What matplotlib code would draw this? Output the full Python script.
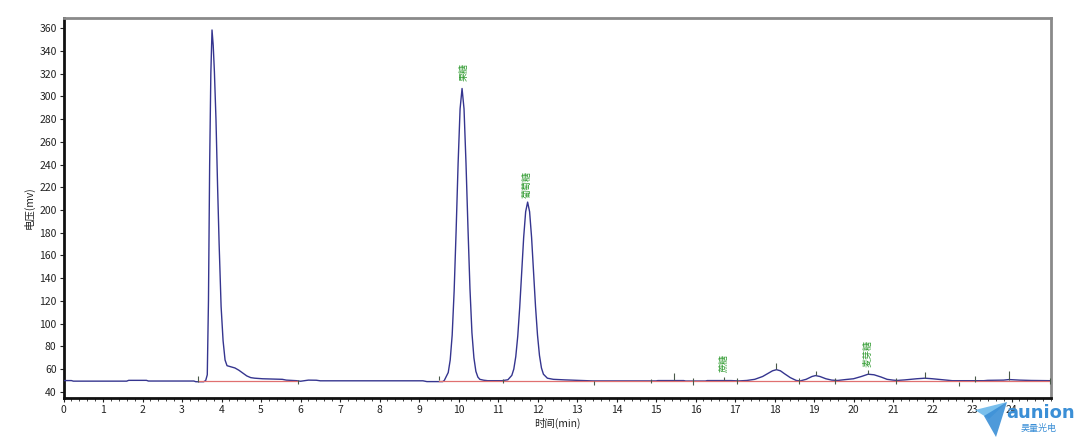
import matplotlib
matplotlib.use("Agg")
import matplotlib.pyplot as plt
from matplotlib.ticker import MultipleLocator
from matplotlib.patches import Polygon

plt.rcParams['font.family'] = ['Noto Sans CJK SC', 'DejaVu Sans']

# ---- data ----
time_min = [0.0, 0.2, 0.25, 1.6, 1.65, 2.1, 2.15, 3.3, 3.35, 3.55, 3.60, 3.64,
            3.67, 3.70, 3.73, 3.76, 3.79, 3.82, 3.86, 3.90, 3.94, 3.99, 4.04,
            4.09, 4.14, 4.24, 4.34, 4.44, 4.54, 4.64, 4.74, 4.84, 5.04, 5.54,
            5.64, 5.90, 6.00, 6.20, 6.40, 6.50, 9.10, 9.20, 9.60, 9.64, 9.74,
            9.79, 9.84, 9.89, 9.94, 9.99, 10.04, 10.09, 10.14, 10.19, 10.24,
            10.29, 10.34, 10.39, 10.44, 10.49, 10.54, 10.64, 10.74, 11.10,
            11.25, 11.35, 11.40, 11.45, 11.50, 11.55, 11.60, 11.65, 11.70,
            11.75, 11.80, 11.85, 11.90, 11.95, 12.00, 12.05, 12.10, 12.15,
            12.25, 12.40, 12.70, 13.10, 13.40, 15.00, 15.05, 15.70, 15.75,
            16.25, 16.30, 16.90, 17.10, 17.30, 17.50, 17.70, 17.85, 17.95,
            18.05, 18.15, 18.25, 18.40, 18.55, 18.65, 18.80, 18.95, 19.04,
            19.15, 19.30, 19.45, 19.60, 19.80, 20.00, 20.20, 20.37, 20.52,
            20.70, 20.85, 21.00, 21.10, 21.30, 21.60, 21.81, 22.00, 22.30,
            22.50, 23.30, 23.40, 23.80, 23.94, 24.20, 24.50, 25.00]
voltage_mv = [49.9, 49.9, 49.4, 49.4, 50.1, 50.1, 49.5, 49.5, 48.9, 48.9, 50.0,
              55.0, 120.0, 240.0, 320.0, 358.5, 345.0, 322.0, 280.0, 222.0,
              170.0, 115.0, 85.0, 68.0, 63.0, 62.0, 61.0, 59.0, 56.5, 54.0,
              52.5, 52.0, 51.5, 51.0, 50.3, 49.8, 49.3, 50.3, 50.2, 49.7,
              49.7, 49.0, 49.0, 50.0, 57.0, 68.0, 90.0, 129.0, 182.0, 241.0,
              289.0, 307.0, 289.0, 241.0, 184.0, 131.0, 92.0, 70.0, 58.0,
              53.0, 51.0, 50.2, 49.8, 49.8, 50.6, 54.5, 60.0, 71.0, 89.0,
              114.5, 145.0, 176.0, 198.5, 207.0, 198.5, 176.0, 145.0, 115.0,
              90.0, 72.0, 61.0, 55.5, 52.0, 51.0, 50.5, 50.0, 49.6, 49.6, 49.9,
              49.9, 49.5, 49.5, 49.9, 49.9, 49.6, 50.0, 51.0, 53.5, 56.5, 58.5,
              59.5, 58.5, 56.0, 52.5, 50.0, 49.6, 51.0, 53.5, 54.3, 53.5, 51.5,
              50.3, 50.0, 50.8, 51.5, 53.5, 55.5, 55.0, 53.0, 51.0, 50.3, 50.0,
              50.5, 51.5, 52.0, 51.5, 50.5, 49.8, 49.8, 50.1, 50.3, 50.8, 50.3,
              50.0, 49.8]

# integration baseline segments (start, end, level in mV)
baseline_start = [3.40, 9.50]
baseline_end = [5.94, 25.0]
baseline_level = [49.2, 49.2]

# peak start/end/apex markers: time, lower mV, upper mV
marker_time = [3.41, 5.94, 9.51, 11.12, 13.43, 14.87, 15.46, 15.94, 16.72,
               17.06, 18.05, 18.61, 19.04, 19.54, 20.37, 21.08, 21.81, 22.68,
               23.08, 23.94, 24.97]
marker_low = [49.0, 46.5, 50.0, 47.5, 46.0, 47.5, 50.0, 46.0, 50.0, 46.6,
              60.0, 47.0, 54.5, 47.0, 56.0, 46.5, 52.0, 45.5, 49.0, 50.5, 46.5]
marker_high = [53.5, 50.5, 54.0, 51.5, 49.5, 51.5, 57.0, 52.0, 53.0, 52.0,
               65.0, 52.0, 58.5, 52.0, 59.0, 52.0, 57.8, 49.0, 53.5, 58.0, 52.0]

# peak names
peak_names = ['果糖', '葡萄糖', '蔗糖', '麦芽糖']
peak_time = [10.14, 11.75, 16.72, 20.37]
peak_label_mv = [314.0, 211.0, 57.5, 62.0]

x_ticks = list(range(0, 25))
y_ticks = list(range(40, 361, 20))

# ---- figure ----
W, H = 1084, 442
fig = plt.figure(figsize=(W / 100, H / 100), dpi=100)
ax = fig.add_axes([63.5 / W, (H - 398.3) / H, (1051 - 63.5) / W, (398.3 - 17.7) / H])

ax.plot(time_min, voltage_mv, color='#35358f', lw=1.0, zorder=3)
for s, e, lv in zip(baseline_start, baseline_end, baseline_level):
    ax.plot([s, e], [lv, lv], color='#e07070', lw=0.9, zorder=4)
ax.vlines(marker_time, marker_low, marker_high, color='#4a5a4a', lw=0.8, zorder=5)

for name, t, v in zip(peak_names, peak_time, peak_label_mv):
    ax.text(t, v, name, rotation=90, ha='center', va='bottom', fontsize=6.5,
            color='#2e9a2e', zorder=6)

ax.set_xlim(0, 25)
ax.set_ylim(34.3, 369.3)
ax.set_xticks(x_ticks)
ax.set_yticks(y_ticks)
ax.xaxis.set_minor_locator(MultipleLocator(0.2))
ax.tick_params(axis='both', which='major', labelsize=7.5, colors='#222222',
               direction='out', length=3, width=0.8, pad=2)
ax.tick_params(axis='x', which='minor', direction='out', length=2, width=0.6,
               colors='#222222')

for side in ['left', 'bottom']:
    ax.spines[side].set_color('#111111')
    ax.spines[side].set_linewidth(2.0)
for side in ['top', 'right']:
    ax.spines[side].set_color('#8a8a8a')
    ax.spines[side].set_linewidth(2.0)

ax.set_xlabel('时间(min)', fontsize=7.5, color='#222222', labelpad=2)
ax.set_ylabel('电压(mv)', fontsize=7.5, color='#222222', labelpad=3)

# ---- watermark logo ----
def px(x, y):
    return (x / W, 1 - y / H)

fig.patches.append(Polygon([px(975, 410), px(1007, 402), px(989, 419)],
                           closed=True, transform=fig.transFigure,
                           facecolor='#6ab8ea', edgecolor='none', alpha=0.9))
fig.patches.append(Polygon([px(984, 416), px(1007, 402), px(996, 437)],
                           closed=True, transform=fig.transFigure,
                           facecolor='#3b8fd6', edgecolor='none', alpha=0.9))
fig.text(1041 / W, 1 - 413 / H, 'aunion', ha='center', va='center', fontsize=13,
         fontweight='bold', color='#3b8fd6', family=['DejaVu Sans'])
fig.text(1039 / W, 1 - 428 / H, '昊量光电', ha='center', va='center', fontsize=6.5,
         color='#3b8fd6')

fig.savefig('out.png', dpi=100)
